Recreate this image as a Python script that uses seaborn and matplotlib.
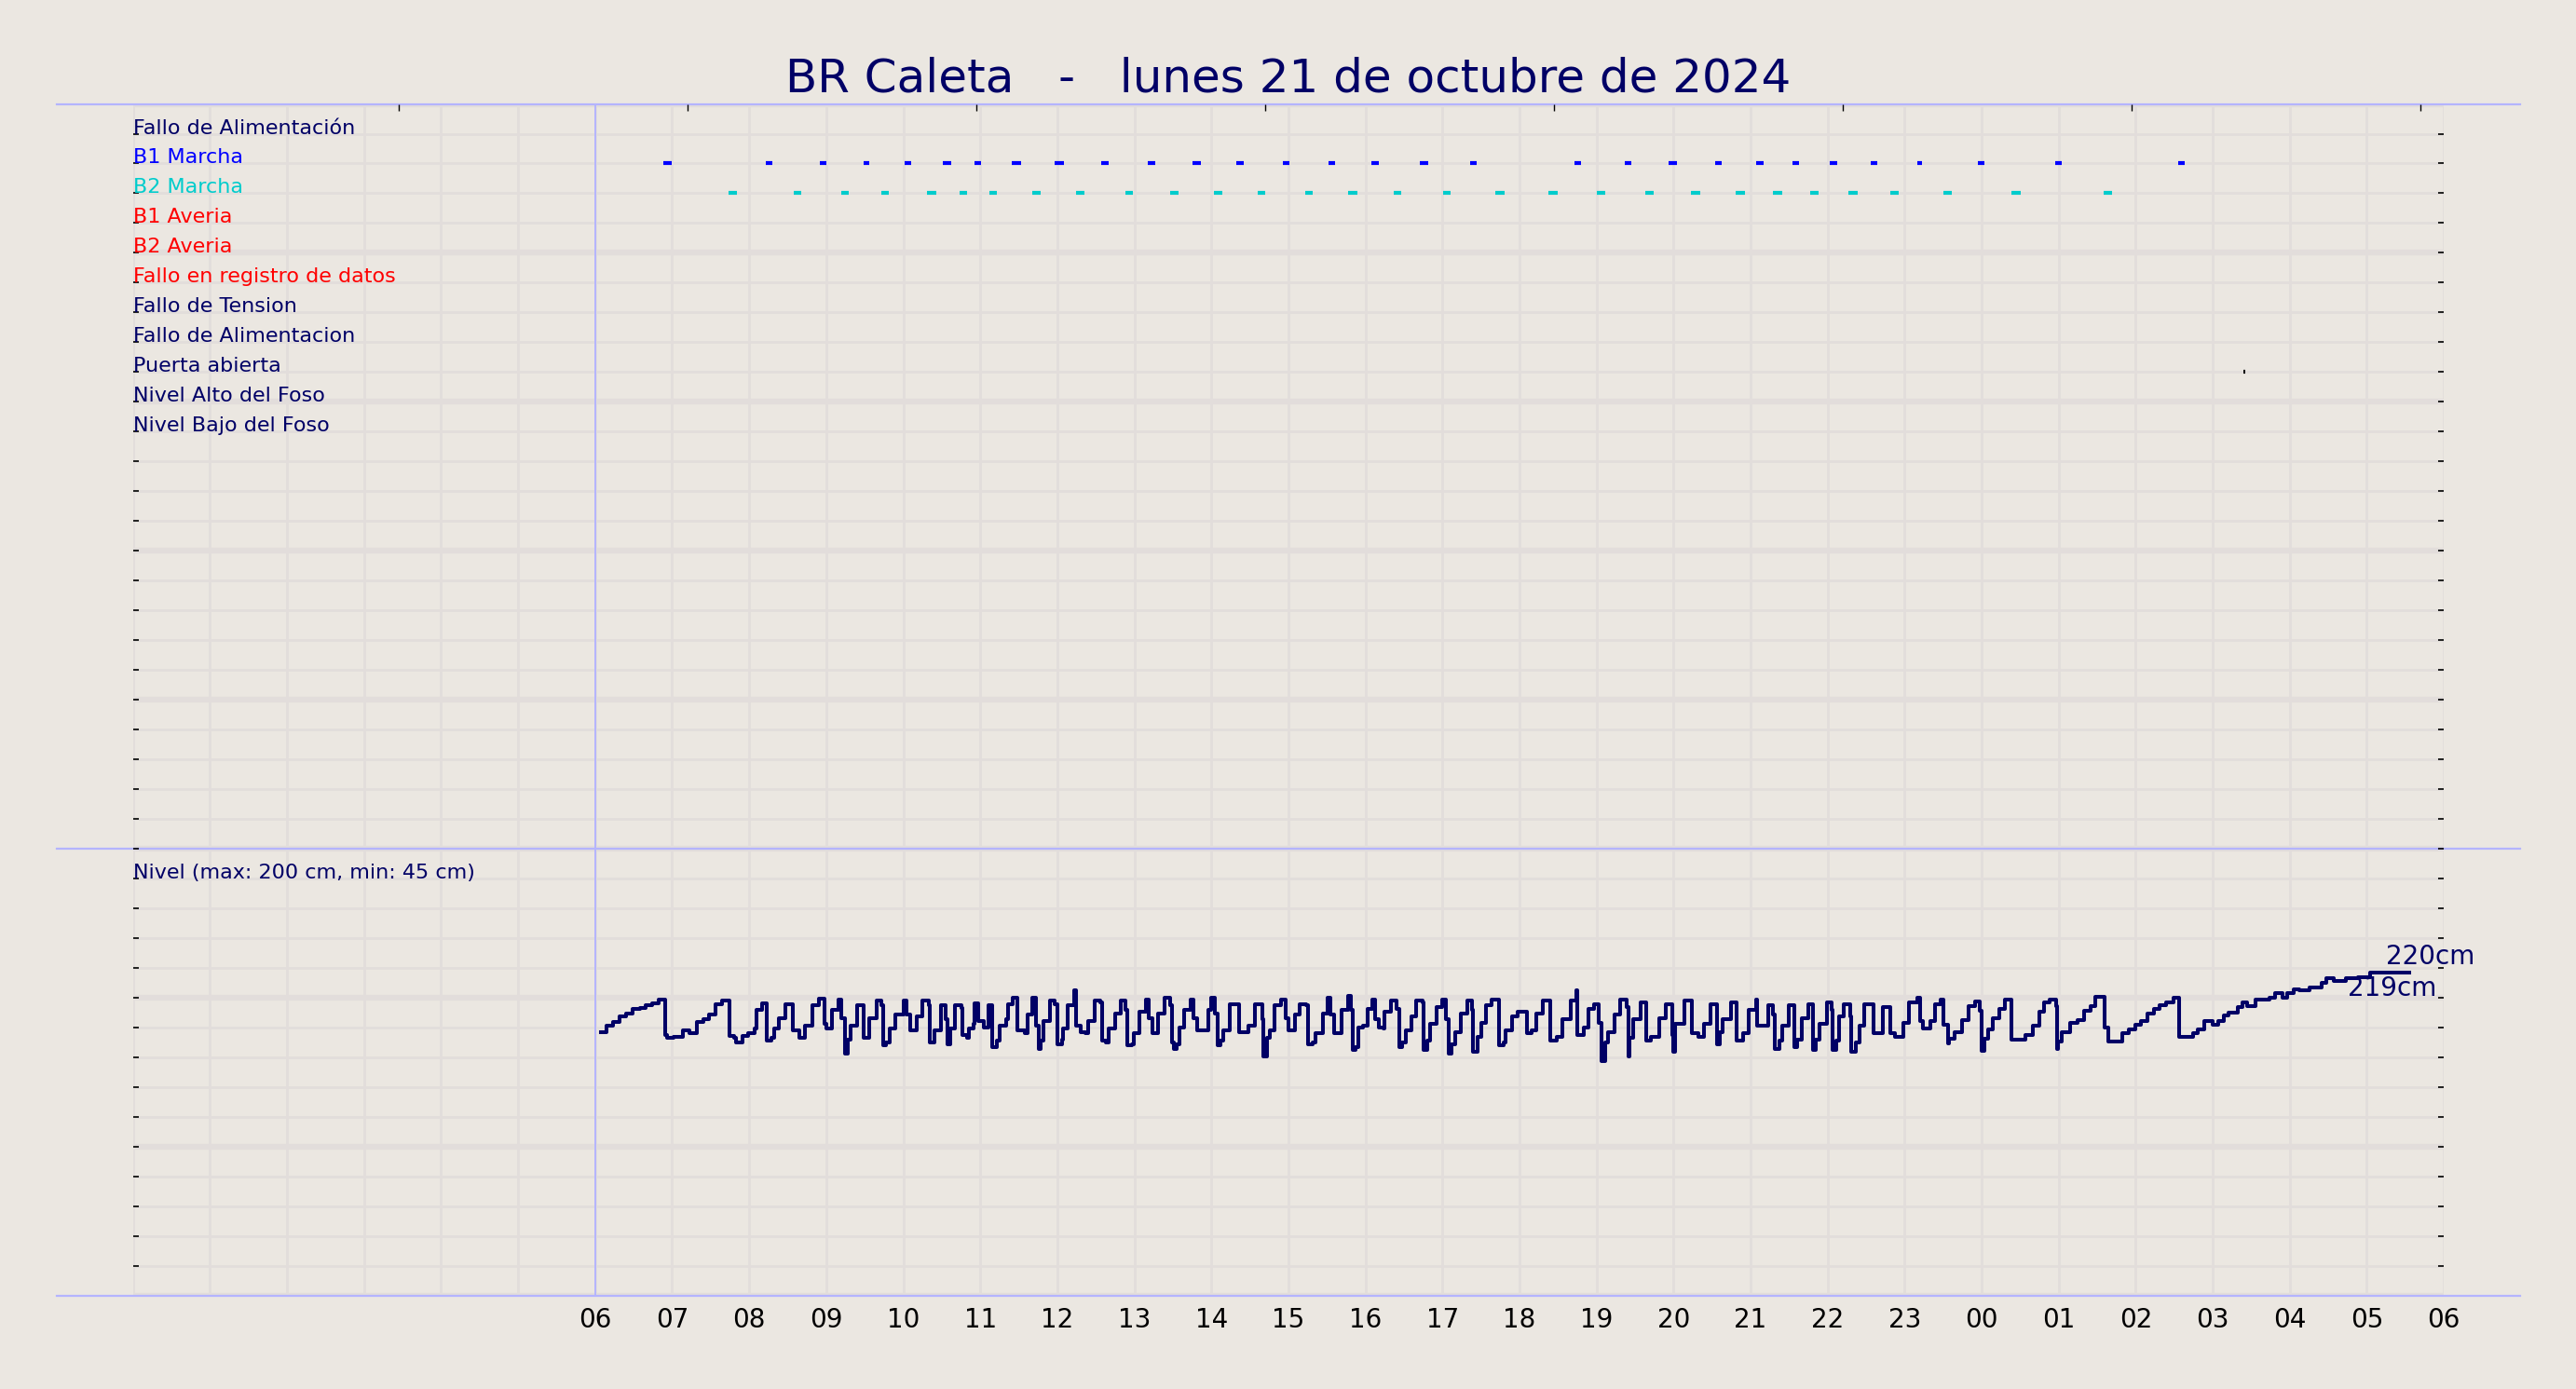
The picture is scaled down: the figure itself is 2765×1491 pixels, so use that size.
import numpy as np
import pandas as pd
import seaborn as sns
import matplotlib.pyplot as plt

titulo = 'BR Caleta   -   lunes 21 de octubre de 2024'

senales = ['Fallo de Alimentación', 'B1 Marcha', 'B2 Marcha', 'B1 Averia', 'B2 Averia',
           'Fallo en registro de datos', 'Fallo de Tension', 'Fallo de Alimentacion',
           'Puerta abierta', 'Nivel Alto del Foso', 'Nivel Bajo del Foso']
colores_senal = ['#000066', '#0000ff', '#00cccc', '#ff0000', '#ff0000', '#ff0000',
                 '#000066', '#000066', '#000066', '#000066', '#000066']

horas_eje = ['06', '07', '08', '09', '10', '11', '12', '13', '14', '15', '16', '17', '18',
             '19', '20', '21', '22', '23', '00', '01', '02', '03', '04', '05', '06']

# arranques de bombas (hora desde 00:00 del dia 21) y duracion en minutos
b1_inicio = [6.89, 8.22, 8.92, 9.48, 10.02, 10.52, 10.93, 11.41, 11.97, 12.57, 13.17, 13.76,
             14.32, 14.93, 15.52, 16.08, 16.71, 17.36, 18.72, 19.37, 19.94, 20.54, 21.07,
             21.54, 22.03, 22.56, 23.16, 23.95, 24.96, 26.55]
b1_min = [6, 5, 5, 5, 5, 6, 5, 7, 7, 6, 6, 6, 6, 5, 5, 6, 6, 5, 5, 5, 6, 5, 6, 5, 6, 5, 4, 5, 5, 5]
b2_inicio = [7.73, 8.58, 9.19, 9.71, 10.31, 10.73, 11.12, 11.68, 12.24, 12.88, 13.46, 14.03,
             14.60, 15.22, 15.78, 16.37, 17.01, 17.69, 18.38, 19.00, 19.63, 20.23, 20.81,
             21.29, 21.77, 22.27, 22.82, 23.50, 24.39, 25.58]
b2_min = [7, 6, 6, 6, 7, 6, 6, 6, 7, 6, 7, 7, 6, 6, 7, 6, 6, 7, 7, 7, 7, 7, 7, 7, 7, 7, 6, 7, 7, 7]
puerta_inicio = [27.40]
puerta_min = [1]

nivel_hora = [
    6.07, 6.15, 6.23, 6.32, 6.40, 6.49, 6.58, 6.66, 6.74, 6.82, 6.91, 6.94, 7.02, 7.14, 7.22,
    7.32, 7.40, 7.48, 7.56, 7.65, 7.75, 7.81, 7.83, 7.91, 7.99, 8.07, 8.09, 8.17, 8.23, 8.29,
    8.33, 8.39, 8.47, 8.57, 8.65, 8.73, 8.82, 8.90, 8.98, 9.00, 9.08, 9.16, 9.20, 9.24, 9.28,
    9.32, 9.40, 9.48, 9.56, 9.66, 9.72, 9.74, 9.78, 9.82, 9.90, 10.00, 10.04, 10.09, 10.17,
    10.25, 10.33, 10.35, 10.41, 10.49, 10.55, 10.57, 10.61, 10.67, 10.75, 10.77, 10.83, 10.85,
    10.91, 10.93, 10.97, 11.05, 11.11, 11.15, 11.21, 11.25, 11.34, 11.36, 11.42, 11.48, 11.58,
    11.62, 11.68, 11.72, 11.76, 11.78, 11.82, 11.90, 11.96, 12.00, 12.06, 12.08, 12.14, 12.22,
    12.24, 12.30, 12.36, 12.40, 12.48, 12.56, 12.58, 12.63, 12.67, 12.75, 12.83, 12.89, 12.91,
    12.97, 12.99, 13.07, 13.15, 13.19, 13.23, 13.31, 13.39, 13.47, 13.49, 13.51, 13.55, 13.59,
    13.65, 13.73, 13.77, 13.81, 13.96, 14.00, 14.04, 14.08, 14.12, 14.16, 14.24, 14.36, 14.48,
    14.56, 14.66, 14.68, 14.72, 14.76, 14.82, 14.90, 14.96, 15.00, 15.08, 15.15, 15.23, 15.25,
    15.31, 15.35, 15.45, 15.51, 15.55, 15.59, 15.69, 15.77, 15.81, 15.83, 15.87, 15.91, 15.97,
    16.03, 16.09, 16.13, 16.17, 16.23, 16.25, 16.33, 16.40, 16.44, 16.48, 16.52, 16.60, 16.66,
    16.74, 16.76, 16.80, 16.84, 16.92, 17.00, 17.04, 17.08, 17.12, 17.16, 17.24, 17.32, 17.38,
    17.40, 17.46, 17.50, 17.56, 17.64, 17.74, 17.80, 17.82, 17.90, 17.98, 18.10, 18.16, 18.22,
    18.30, 18.40, 18.48, 18.56, 18.67, 18.74, 18.75, 18.83, 18.89, 18.97, 19.03, 19.07, 19.11,
    19.15, 19.23, 19.31, 19.39, 19.41, 19.43, 19.47, 19.57, 19.65, 19.71, 19.81, 19.90, 19.98,
    20.00, 20.02, 20.14, 20.24, 20.32, 20.40, 20.48, 20.56, 20.60, 20.64, 20.74, 20.82, 20.90,
    20.98, 21.07, 21.09, 21.23, 21.29, 21.31, 21.37, 21.41, 21.49, 21.57, 21.61, 21.67, 21.75,
    21.81, 21.85, 21.89, 21.99, 22.05, 22.07, 22.11, 22.15, 22.21, 22.29, 22.31, 22.37, 22.42,
    22.48, 22.60, 22.72, 22.82, 22.88, 22.98, 23.06, 23.17, 23.20, 23.24, 23.34, 23.40, 23.47,
    23.50, 23.56, 23.58, 23.65, 23.74, 23.83, 23.92, 23.98, 24.00, 24.03, 24.08, 24.14, 24.23,
    24.30, 24.39, 24.57, 24.66, 24.75, 24.81, 24.88, 24.97, 24.98, 24.99, 25.04, 25.15, 25.24,
    25.33, 25.42, 25.48, 25.60, 25.64, 25.82, 25.91, 26.00, 26.07, 26.15, 26.24, 26.31, 26.40,
    26.49, 26.56, 26.74, 26.80, 26.89, 27.00, 27.07, 27.14, 27.21, 27.32, 27.38, 27.45, 27.56,
    27.74, 27.81, 27.90, 27.97, 28.05, 28.12, 28.26, 28.41, 28.48, 28.57, 28.73, 28.88, 29.04,
    29.55]
nivel_cm = [
    176.8, 181.3, 183.8, 187.6, 189.2, 192.7, 193.4, 194.8, 196.3, 198.8, 175.1, 173.1, 173.7,
    178.2, 176.2, 183.8, 185.5, 188.6, 195.9, 197.9, 174.7, 173.1, 169.9, 174.7, 176.2, 179.3,
    191.7, 196.3, 171.0, 173.1, 179.3, 186.5, 195.9, 178.2, 173.1, 181.3, 194.8, 199.4, 182.4,
    179.3, 191.7, 199.0, 186.5, 162.7, 172.0, 181.3, 194.8, 173.1, 186.5, 197.9, 194.8, 167.9,
    169.9, 179.3, 188.6, 197.9, 188.6, 178.2, 187.6, 197.9, 194.8, 169.9, 178.2, 194.8, 185.5,
    168.9, 179.3, 194.8, 193.4, 175.1, 173.1, 179.3, 182.4, 196.3, 184.5, 180.3, 194.8, 166.8,
    171.0, 181.3, 185.5, 195.9, 200.0, 178.2, 176.2, 188.6, 200.0, 181.3, 165.8, 171.0, 184.5,
    197.9, 195.9, 168.9, 172.0, 179.3, 194.8, 205.2, 181.3, 177.2, 176.2, 184.5, 197.9, 196.9,
    171.0, 169.9, 179.3, 189.6, 197.9, 191.7, 167.9, 168.9, 176.2, 190.7, 199.0, 186.5, 176.2,
    189.6, 200.0, 194.8, 169.9, 165.8, 168.9, 180.3, 191.7, 199.0, 186.5, 178.2, 191.7, 200.0,
    189.6, 167.9, 171.0, 178.2, 195.9, 177.2, 181.3, 195.9, 185.5, 160.6, 173.1, 178.2, 194.8,
    199.0, 186.5, 178.2, 188.6, 195.9, 194.8, 168.9, 169.9, 176.2, 189.6, 200.0, 188.6, 176.2,
    191.7, 201.0, 191.7, 164.8, 166.8, 180.3, 181.3, 192.7, 199.0, 185.5, 180.3, 179.3, 190.7,
    197.9, 192.7, 166.8, 169.9, 178.2, 187.6, 197.9, 196.9, 164.8, 171.0, 182.4, 193.8, 199.0,
    185.5, 162.7, 168.9, 177.2, 189.6, 197.9, 191.7, 163.7, 174.1, 183.4, 194.8, 199.0, 167.9,
    169.9, 178.2, 187.6, 190.7, 176.2, 178.2, 189.6, 197.9, 171.0, 174.1, 185.5, 197.9, 205.2,
    175.1, 180.3, 192.7, 195.9, 183.4, 157.5, 169.9, 177.2, 188.6, 199.0, 193.8, 160.6, 173.1,
    185.5, 196.9, 171.0, 174.1, 186.5, 195.9, 175.1, 163.7, 182.4, 197.9, 176.2, 174.1, 182.4,
    195.9, 168.9, 177.2, 185.5, 196.9, 171.0, 176.2, 191.7, 199.0, 181.3, 194.8, 188.6, 165.8,
    171.0, 181.3, 194.8, 166.8, 172.0, 186.5, 195.9, 164.8, 172.0, 182.4, 196.9, 191.7, 164.8,
    171.0, 187.6, 195.9, 187.6, 163.7, 169.9, 181.3, 195.9, 176.2, 193.8, 176.2, 174.1, 183.4,
    196.9, 200.0, 184.5, 179.3, 184.5, 195.9, 198.8, 182.2, 169.7, 172.8, 177.0, 185.3, 194.6,
    197.7, 191.5, 164.6, 172.8, 179.1, 186.3, 192.5, 198.8, 171.8, 174.9, 181.1, 190.5, 196.7,
    198.8, 194.6, 165.6, 170.8, 177.0, 183.2, 185.3, 191.5, 194.6, 200.8, 180.1, 170.8, 176.0,
    179.1, 182.2, 184.2, 189.4, 192.5, 195.0, 196.7, 199.8, 173.9, 176.0, 179.1, 184.2, 182.2,
    184.2, 188.4, 190.0, 193.6, 196.7, 194.6, 198.8, 199.8, 202.9, 199.8, 202.9, 206.0, 205.0,
    207.0, 210.2, 212.9, 211.6, 212.9, 213.7, 217.0, 217.0]
nivel_texto = 'Nivel (max: 200 cm, min: 45 cm)'
nivel_max_txt = '220cm'
nivel_ult_txt = '219cm'

marcas_arriba = [3.45, 7.20, 10.95, 14.70, 18.45, 22.20, 25.95, 29.70]

FONDO = '#ebe7e1'
REJILLA = '#e2dddb'
LAVANDA = '#b4b4ff'
AZUL = '#000066'
CM_FILA = 20.0

fig = plt.figure(figsize=(13.825, 7.455), dpi=200, facecolor=FONDO)
ax = fig.add_axes([0.0516, 0.0671, 0.8971, 0.8581])
ax.set_facecolor(FONDO)

for h in range(31):
    ax.axvline(h, color=REJILLA, lw=1.0, zorder=0)
for r in range(0, 41):
    ax.axhline(r, color=REJILLA, lw=2.3 if r % 5 == 0 else 1.0, zorder=0)
ax.axvline(6, color=LAVANDA, lw=0.7, zorder=1)
for r in (0, 15, 40):
    ax.axhline(r, xmin=-0.033, xmax=1.033, color=LAVANDA, lw=0.8, clip_on=False, zorder=1)

for i, (nombre, col) in enumerate(zip(senales, colores_senal)):
    ax.text(0, 39 - i, nombre, color=col, fontsize=8, ha='left', va='baseline', zorder=4)

eventos = [(b1_inicio, b1_min, 38, '#0000ff'),
           (b2_inicio, b2_min, 37, '#00cccc'),
           (puerta_inicio, puerta_min, 31, 'black')]
for ini, dur, fila, col in eventos:
    ini = np.array(ini)
    fin = ini + np.array(dur) / 60.0
    ax.hlines([fila] * len(ini), ini, fin, colors=col, lw=1.5, zorder=3)

niv = pd.DataFrame({'hora': nivel_hora, 'fila': np.array(nivel_cm) / CM_FILA})
sns.lineplot(data=niv, x='hora', y='fila', drawstyle='steps-post', color=AZUL,
             lw=1.45, ax=ax, zorder=3)
ax.text(0, 14, nivel_texto, color=AZUL, fontsize=8, ha='left', va='baseline', zorder=4)
ax.text(29.25, 11.13, nivel_max_txt, color=AZUL, fontsize=10, ha='left', va='baseline')
ax.text(29.91, 10.05, nivel_ult_txt, color=AZUL, fontsize=10, ha='right', va='baseline')

ax.set_xlim(0, 30)
ax.set_ylim(0, 40)
ax.set_xlabel('')
ax.set_ylabel('')
ax.set_xticks(range(6, 31))
ax.set_xticklabels(horas_eje)
ax.tick_params(axis='x', length=0, pad=4.5, labelsize=10, colors='black')
ax.set_yticks(range(1, 40))
ax.tick_params(axis='y', direction='in', length=2.0, width=0.6, left=True, right=True,
               labelleft=False, colors='black')
for s in ax.spines.values():
    s.set_visible(False)

ax2 = ax.twiny()
ax2.set_xlim(0, 30)
ax2.set_xticks(marcas_arriba)
ax2.tick_params(axis='x', direction='in', length=2.5, width=0.5, labeltop=False, top=True)
for s in ax2.spines.values():
    s.set_visible(False)

fig.text(0.5, 0.934, titulo, ha='center', va='baseline', fontsize=18, color=AZUL)

fig.savefig('out.png', dpi=200, facecolor=FONDO)
